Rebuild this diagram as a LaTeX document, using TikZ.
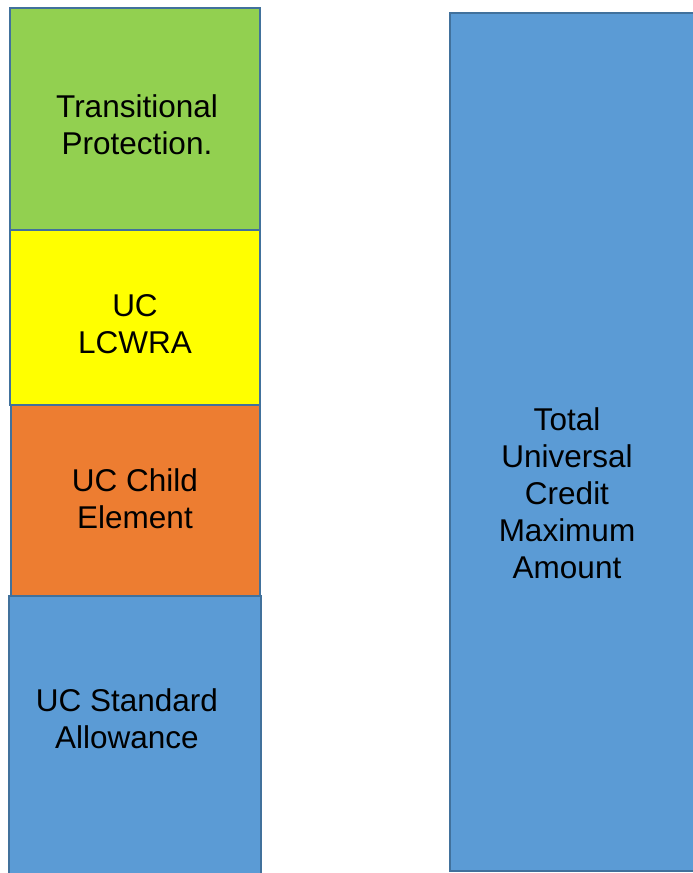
\documentclass[tikz,border=0pt]{standalone}
\usepackage{fontspec}
\setmainfont{Liberation Sans}
\definecolor{ucblue}{HTML}{5B9BD5}
\definecolor{ucgreen}{HTML}{92D050}
\definecolor{ucyellow}{HTML}{FFFF00}
\definecolor{ucorange}{HTML}{ED7D31}
\definecolor{ucedge}{HTML}{41719C}
\begin{document}
\begin{tikzpicture}[x=1pt,y=-1pt,
  bar/.style={draw=ucedge,line width=2pt},
  lbl/.style={align=center,font=\fontsize{31.5}{37}\selectfont,text=black,inner sep=0pt}]
\useasboundingbox (0,0) rectangle (693,873);
\fill[white] (0,0) rectangle (693,873);
% left stack
\draw[bar,fill=ucblue] (9,596) rectangle (261,875);
\draw[bar,fill=ucorange] (11,405) rectangle (260,596);
\draw[bar,fill=ucyellow] (10,230) rectangle (260,405);
\draw[bar,fill=ucgreen] (10,8) rectangle (260,230);
% right bar
\draw[bar,fill=ucblue] (450,13) rectangle (697,871);
% labels
\node[lbl] (tp) at (137,125) {Transitional\\Protection.};
\node[lbl] (lc) at (135,324) {UC\\LCWRA};
\node[lbl] (ce) at (135,499) {UC Child\\Element};
\node[lbl] (sa) at (127,719) {UC Standard\\Allowance};
\node[lbl] (tot) at (567,493) {Total\\Universal\\Credit\\Maximum\\Amount};
\end{tikzpicture}
\end{document}
